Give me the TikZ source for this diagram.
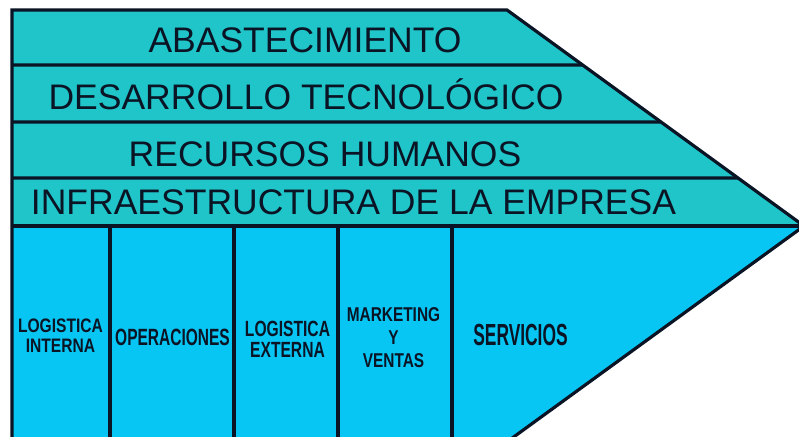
\documentclass[tikz,border=0pt]{standalone}
\usepackage{fontspec}
\setmainfont{Liberation Sans}
\usepackage{graphicx}
\usetikzlibrary{calc}

\definecolor{bandteal}{HTML}{1FC5C9}
\definecolor{opblue}{HTML}{08C6F4}
\definecolor{inkdark}{HTML}{0A1424}

% condensed, centred label (baseline = last line)
\newcommand{\actlabel}[2]{\scalebox{#1}[1]{\begin{tabular}[b]{@{}c@{}}#2\end{tabular}}}

\begin{document}
\begin{tikzpicture}[x=1pt,y=1pt,
	edge/.style={draw=inkdark, line width=3.2pt},
	support/.style={font=\fontsize{35.5}{40}\selectfont, text=inkdark, anchor=base, inner sep=0pt},
	primary/.style={text=inkdark, anchor=base, inner sep=0pt}]
	
	\useasboundingbox (0,0) rectangle (799,436);
	\clip (0,0) rectangle (799,436);
	
	% corners of the arrow
	\coordinate (tl) at (12,426);
	\coordinate (tr) at (507,426);
	\coordinate (tip) at (804,210);
	\coordinate (ml) at (12,210);
	\coordinate (bl) at (12,-20);
	\coordinate (br) at (487.5,-20);
	
	% support activities (upper part)
	\fill[bandteal] (tl) -- (tr) -- (tip) -- (ml) -- cycle;
	% primary activities (lower part)
	\fill[opblue] (ml) -- (tip) -- (br) -- (bl) -- cycle;
	
	% band separators
	\draw[edge] (12,371) -- ($(tr)!0.2546!(tip)$);
	\draw[edge] (12,314) -- ($(tr)!0.5185!(tip)$);
	\draw[edge] (12,258) -- ($(tr)!0.7778!(tip)$);
	\draw[edge] (ml) -- (tip);
	
	% column separators
	\foreach \x in {110,234,338,452}
		\draw[edge] (\x,210) -- (\x,-20);
	
	% outline
	\draw[edge, line join=miter] (bl) -- (tl) -- (tr) -- (tip) -- (br);
	
	% support labels
	\node[support] (abast) at (305,383) {ABASTECIMIENTO};
	\node[support] (desarr) at (306,326) {DESARROLLO TECNOLÓGICO};
	\node[support] (rrhh) at (325,269) {RECURSOS HUMANOS};
	\node[support] (infra) at (353.5,221) {INFRAESTRUCTURA DE LA EMPRESA};
	
	% primary labels
	\node[primary, font=\bfseries\fontsize{19.5}{19}\selectfont] (logint) at (60.5,84)
		{\actlabel{0.80}{LOGISTICA\\INTERNA}};
	\node[primary, font=\bfseries\fontsize{23.5}{24}\selectfont] (oper) at (172.5,91)
		{\actlabel{0.66}{OPERACIONES}};
	\node[primary, font=\bfseries\fontsize{22}{21}\selectfont] (logext) at (287.5,78)
		{\actlabel{0.71}{LOGISTICA\\EXTERNA}};
	\node[primary, font=\bfseries\fontsize{20}{22.5}\selectfont] (mkt) at (393.5,69)
		{\actlabel{0.77}{MARKETING\\Y\\VENTAS}};
	\node[primary, font=\bfseries\fontsize{30.5}{31}\selectfont] (serv) at (520.5,91)
		{\actlabel{0.57}{SERVICIOS}};
	
\end{tikzpicture}
\end{document}
